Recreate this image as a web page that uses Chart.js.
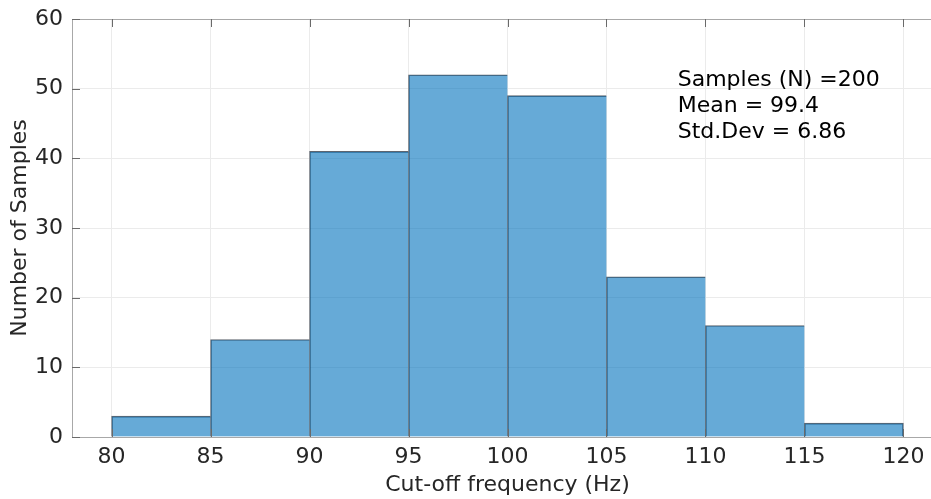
<!DOCTYPE html>
<html>
<head>
<meta charset="utf-8">
<title>Cut-off frequency histogram</title>
<script src="https://cdn.jsdelivr.net/npm/chart.js@4.4.1/dist/chart.umd.min.js"></script>
<style>
  html, body { margin: 0; padding: 0; overflow: hidden; background: #fff; }
</style>
</head>
<body>
<canvas id="chart" width="943" height="499"></canvas>
<script>
// histogram bins (left edges) and counts
const binStarts = [80, 85, 90, 95, 100, 105, 110, 115]
const binWidth = 5
const counts = [3, 14, 41, 52, 49, 23, 16, 2]
const xTicks = [80, 85, 90, 95, 100, 105, 110, 115, 120]
const yTicks = [0, 10, 20, 30, 40, 50, 60]
const statsLines = ['Samples (N) =200', 'Mean = 99.4', 'Std.Dev = 6.86']
// where the stats box sits, in data units
const statsAnchor = { x: 108.6, y: 50.4 }

const FONT = 'DejaVu Sans'
const TEXT = '#262626'

// box + inward tick marks, matlab style
const axesBox = {
  id: 'axesBox',
  afterDatasetsDraw(chart) {
    const { ctx, chartArea: a, scales } = chart
    ctx.save()
    ctx.strokeStyle = '#a8a8a8'
    ctx.lineWidth = 1
    ctx.strokeRect(a.left + 0.5, a.top + 0.5, a.right - a.left - 1, a.bottom - a.top)
    ctx.strokeStyle = '#6a6a6a'
    ctx.beginPath()
    const tl = 8
    xTicks.forEach((v) => {
      const x = Math.round(scales.x.getPixelForValue(v)) + 0.5
      ctx.moveTo(x, a.top); ctx.lineTo(x, a.top + tl)
      ctx.moveTo(x, a.bottom); ctx.lineTo(x, a.bottom - tl)
    })
    yTicks.forEach((v) => {
      const y = Math.round(scales.y.getPixelForValue(v)) + 0.5
      ctx.moveTo(a.left, y); ctx.lineTo(a.left + tl, y)
      ctx.moveTo(a.right, y); ctx.lineTo(a.right - tl, y)
    })
    ctx.stroke()
    ctx.restore()
  },
}

const statsText = {
  id: 'statsText',
  afterDraw(chart) {
    const { ctx, scales } = chart
    const x = scales.x.getPixelForValue(statsAnchor.x)
    const y = scales.y.getPixelForValue(statsAnchor.y)
    ctx.save()
    ctx.fillStyle = '#000'
    ctx.font = `22px "${FONT}"`
    ctx.textAlign = 'left'
    ctx.textBaseline = 'alphabetic'
    statsLines.forEach((line, i) => ctx.fillText(line, x, y + i * 26))
    ctx.restore()
  },
}

const lastBin = counts.length - 1
const data = {
  datasets: [{
    data: binStarts.map((s, i) => ({ x: s + binWidth / 2, y: counts[i] })),
    backgroundColor: 'rgba(0, 114, 189, 0.6)',
    borderColor: 'rgba(25, 35, 50, 0.7)',
    // shared edges between neighbouring bins stay 1px
    borderWidth: (c) => ({ top: 1, left: 1, bottom: 0, right: c.dataIndex === lastBin ? 1 : 0 }),
    borderSkipped: false,
    barPercentage: 1,
    categoryPercentage: 1,
  }],
}

const options = {
  responsive: false,
  animation: false,
  devicePixelRatio: 1,
  layout: { autoPadding: false, padding: { top: 19, right: 0, bottom: 0, left: 0 } },
  plugins: { legend: { display: false }, tooltip: { enabled: false } },
  scales: {
    x: {
      type: 'linear',
      min: 78,
      max: 122,
      offset: false,
      afterBuildTicks: (s) => { s.ticks = xTicks.map((v) => ({ value: v })) },
      afterFit: (s) => { s.height = 62; s.paddingLeft = 0; s.paddingRight = 0 },
      grid: { color: '#ebebeb', drawTicks: false, offset: false },
      border: { display: false },
      ticks: { padding: 7, color: TEXT, font: { family: FONT, size: 22 }, maxRotation: 0 },
      title: {
        display: true,
        text: 'Cut-off frequency (Hz)',
        color: TEXT,
        font: { family: FONT, size: 22 },
        padding: { top: 0, bottom: 1 },
      },
    },
    y: {
      min: 0,
      max: 60,
      afterBuildTicks: (s) => { s.ticks = yTicks.map((v) => ({ value: v })) },
      afterFit: (s) => { s.width = 72; s.paddingTop = 0; s.paddingBottom = 0 },
      grid: { color: '#ebebeb', drawTicks: false },
      border: { display: false },
      ticks: { padding: 9, color: TEXT, font: { family: FONT, size: 22 } },
      title: {
        display: true,
        text: 'Number of Samples',
        color: TEXT,
        font: { family: FONT, size: 22 },
        padding: { top: 7, bottom: 0 },
      },
    },
  },
}

new Chart(document.getElementById('chart'), {
  type: 'bar',
  data,
  options,
  plugins: [axesBox, statsText],
})
</script>
</body>
</html>
